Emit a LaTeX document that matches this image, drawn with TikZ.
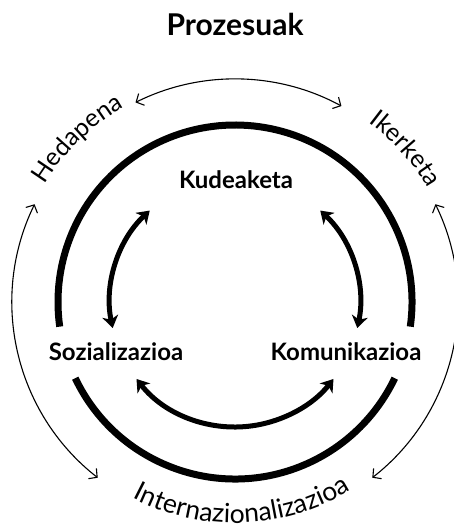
\documentclass[tikz,border=0pt]{standalone}
\usepackage{fontspec}
\setmainfont{Lato}
\usetikzlibrary{arrows.meta,decorations.text}
\newcommand\titlefont{\fontsize{30}{32}\selectfont\bfseries}
\newcommand\boxfont{\fontsize{24}{26}\selectfont\bfseries}
\newcommand\ringfont{\fontsize{25}{26}\selectfont}
\newcommand\bottomfont{\fontsize{26.5}{28}\selectfont}

\begin{document}
\begin{tikzpicture}[x=1pt,y=1pt,
  ring/.style={line width=7pt},
  inarrow/.style={line width=5pt,{Stealth[length=12pt,width=16pt,inset=3.5pt]}-{Stealth[length=12pt,width=16pt,inset=3.5pt]}},
  outarrow/.style={line width=1.1pt,{Straight Barb[length=6pt,width=13pt]}-{Straight Barb[length=6pt,width=13pt]}},
  ringtext/.style={decorate,decoration={text along path,text align=center,text={#1}}}]
\useasboundingbox (-235,-227) rectangle (218,302);
% izenburua eta barneko etiketak
\node[font=\titlefont] (title) at (0,278) {Prozesuak};
\node[font=\boxfont] (kud) at (1,122) {Kudeaketa};
\node[font=\boxfont] (soz) at (-119,-50) {Sozializazioa};
\node[font=\boxfont] (kom) at (111,-50) {Komunikazioa};
% zirkulu lodia
\draw[ring] (-8:177) arc[start angle=-8, end angle=188, radius=177];
\draw[ring] (205.5:177) arc[start angle=205.5, end angle=334.5, radius=177];
% barneko geziak
\coordinate (kudL) at (133:125);
\coordinate (kudR) at (47:125);
\coordinate (sozB) at (218:125);
\draw[inarrow] (kudL) arc[start angle=133, end angle=192, radius=125];
\draw[inarrow] (kudR) arc[start angle=47, end angle=-12, radius=125];
\draw[inarrow] (sozB) arc[start angle=218, end angle=322, radius=125];
% kanpoko testuak
\path[ringtext={|\ringfont|Hedapena}] (160:224) arc[start angle=160, end angle=108, radius=224];
\path[ringtext={|\ringfont|Ikerketa}] (68:224) arc[start angle=68, end angle=16, radius=224];
\path[ringtext={|\bottomfont|Internazionalizazioa}] (224:221) arc[start angle=224, end angle=320, radius=221];
% kanpoko geziak
\coordinate (hedT) at (116.5:223);
\coordinate (hedL) at (154:223);
\coordinate (ikeR) at (26:223);
\draw[outarrow] (hedT) arc[start angle=116.5, end angle=61.5, radius=223];
\draw[outarrow] (hedL) arc[start angle=154, end angle=232, radius=223];
\draw[outarrow] (ikeR) arc[start angle=26, end angle=-52, radius=223];
\end{tikzpicture}
\end{document}
